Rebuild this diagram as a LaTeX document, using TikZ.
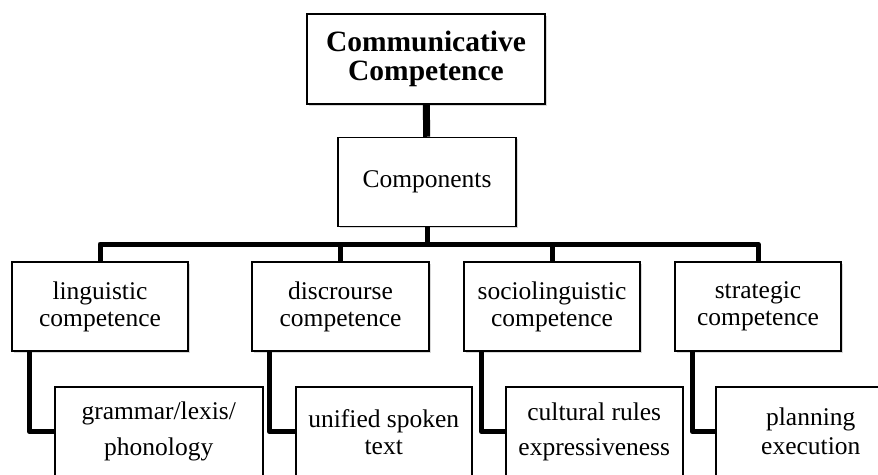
\documentclass[tikz,border=0pt]{standalone}
\usepackage{fontspec}
\setmainfont{Liberation Serif}
\usetikzlibrary{positioning,shadows}
\tikzset{
  headbox/.style={
    draw=black,fill=white,line width=1.5pt,
    minimum width=238pt,minimum height=90pt,inner sep=0pt,
    align=center,font=\bfseries\fontsize{29.5}{29}\selectfont,
    drop shadow={shadow xshift=1.5pt,shadow yshift=-1.5pt,opacity=.3}
  },
  kindbox/.style={
    draw=black,fill=white,line width=1.5pt,
    minimum height=89pt,inner sep=0pt,
    align=center,font=\fontsize{25.5}{27}\selectfont,
    drop shadow={shadow xshift=1.5pt,shadow yshift=-1.5pt,opacity=.3}
  },
  itembox/.style={
    kindbox,minimum height=90pt,anchor=north west
  },
  link/.style={draw=black,line width=5pt,line join=round},
  trunk/.style={draw=black,line width=7pt}
}
\begin{document}
\begin{tikzpicture}[x=1pt,y=-1pt]
\useasboundingbox (0,0) rectangle (878,474);
\clip (0,0) rectangle (878,474);

% top of the tree
\node[headbox] (comm) at (426,59) {Communicative\\Competence};
\node[kindbox,minimum width=178pt] (comp) at (427,182) {Components};
\coordinate (bus) at (427,244);

% the four competences
\node[kindbox,minimum width=176pt] (ling) at (100,306.5) {linguistic\\competence};
\node[kindbox,minimum width=177pt] (disc) at (340.5,306.5) {discrourse\\competence};
\node[kindbox,minimum width=176pt] (socio) at (552,306.5) {sociolinguistic\\competence};
\node[kindbox,minimum width=166pt] (strat) at (758,306.5) {strategic\\competence};

% what each one covers
\node[itembox,minimum width=208pt] (gram) at (54,386) {grammar/lexis/\\[9pt]phonology};
\node[itembox,minimum width=176pt] (spoken) at (295,386) {unified spoken\\text};
\node[itembox,minimum width=177pt] (rules) at (505,386) {cultural rules\\[8pt]expressiveness};
\node[itembox,minimum width=190pt] (plan) at (715,386) {planning\\[2pt]execution};

\draw[trunk] (comm) -- (comp);
\draw[link] (comp) -- (bus);
\foreach \kind in {ling,disc,socio,strat}
  \draw[link] (\kind.north) |- (bus);
\foreach \kind/\item in {ling/gram,disc/spoken,socio/rules,strat/plan}
  \draw[link] ([xshift=18pt]\kind.south west) |- (\item.west);
\end{tikzpicture}
\end{document}
